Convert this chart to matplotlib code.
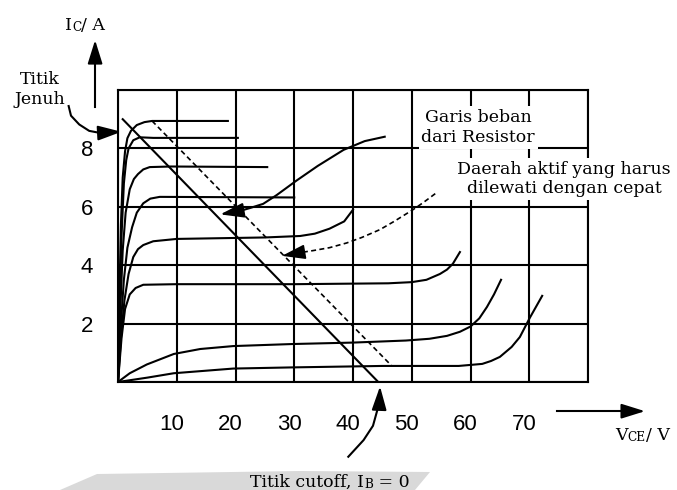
import matplotlib.pyplot as plt
from matplotlib.patches import Polygon
from matplotlib.transforms import ScaledTranslation

plt.rcParams['font.family'] = ['Liberation Sans', 'DejaVu Sans']
SERIF = 'DejaVu Serif'

# grid and tick values
vce_grid = [0, 10, 20, 30, 40, 50, 60, 70, 80]
vce_labels = ['', '10', '20', '30', '40', '50', '60', '70', '']
ic_grid = [0, 2, 4, 6, 8, 10]
ic_labels = ['', '2', '4', '6', '8', '']

# characteristic curves (Vce in V, Ic in A), lowest IB first
ib1_v = [0, 5, 9.5, 19.6, 29.6, 45, 58, 62, 63.5, 65, 67, 68.4, 70.1, 72.2]
ib1_i = [0, 0.15, 0.3, 0.46, 0.5, 0.55, 0.55, 0.62, 0.72, 0.86, 1.2, 1.54, 2.2, 2.95]
ib2_v = [0, 2, 4.9, 9.5, 14, 19.6, 29.6, 40, 49, 53, 56, 58.2, 60, 61.5, 62.8, 64, 65.2]
ib2_i = [0, 0.3, 0.6, 0.96, 1.13, 1.23, 1.3, 1.35, 1.42, 1.48, 1.58, 1.72, 1.9, 2.18, 2.57, 3.0, 3.5]
ib3_v = [0, 0.6, 1.2, 2.0, 3.0, 4.3, 10, 30, 46, 50, 52.5, 54.8, 56, 57, 58.2]
ib3_i = [0, 1.5, 2.5, 3.0, 3.22, 3.33, 3.35, 3.35, 3.38, 3.42, 3.5, 3.7, 3.85, 4.05, 4.45]
ib4_v = [0, 0.5, 1.1, 1.8, 2.6, 3.4, 4.3, 6, 10, 25, 31, 33.5, 36, 38.5, 40]
ib4_i = [0, 1.5, 2.8, 3.7, 4.28, 4.55, 4.69, 4.82, 4.9, 4.95, 5.0, 5.08, 5.25, 5.5, 5.9]
ib5_v = [0, 0.5, 1.0, 1.6, 2.4, 3.2, 4.3, 5.5, 7.1, 30]
ib5_i = [0, 2.0, 3.5, 4.6, 5.3, 5.8, 6.12, 6.28, 6.34, 6.32]
ib6_v = [0, 0.4, 0.8, 1.3, 2.0, 2.7, 3.4, 4.3, 5.4, 9, 25.4]
ib6_i = [0, 2.5, 4.5, 5.8, 6.6, 6.95, 7.12, 7.28, 7.36, 7.38, 7.36]
ib7_v = [0, 0.3, 0.6, 1.0, 1.4, 1.8, 2.6, 3.7, 6, 20.4]
ib7_i = [0, 2.8, 5.0, 6.8, 7.6, 8.0, 8.28, 8.38, 8.36, 8.36]
ib8_v = [0, 0.25, 0.5, 0.8, 1.2, 1.6, 2.2, 3.2, 4.5, 5.8, 18.7]
ib8_i = [0, 3, 5.4, 7.0, 7.9, 8.35, 8.6, 8.8, 8.9, 8.94, 8.94]

# load lines
load_v = [0.8, 44.3]
load_i = [9.0, 0.0]
fast_v = [5.8, 46.6]
fast_i = [8.94, 0.55]

# annotation arrows (path, then head tip)
garis_v = [45.4, 42, 38.4, 34, 30.4, 27, 24.7, 22.5, 20.8]
garis_i = [8.4, 8.25, 7.95, 7.4, 6.9, 6.4, 6.1, 5.96, 5.86]
garis_tip = (17.4, 5.74)
daerah_v = [54, 52, 50.2, 47, 44.6, 41.5, 38.9, 36, 33.2, 31.6]
daerah_i = [6.45, 6.15, 5.9, 5.5, 5.22, 4.95, 4.76, 4.6, 4.5, 4.45]
daerah_tip = (27.9, 4.32)
jenuh_v = [-8.4, -8.0, -6.6, -4.9, -3.06]
jenuh_i = [9.45, 9.12, 8.82, 8.6, 8.53]
jenuh_tip = (0.6, 8.57)
cutoff_v = [39.2, 41.8, 43.4, 44.5]
cutoff_i = [-2.56, -1.99, -1.5, -0.7]
cutoff_tip = (44.6, -0.15)

fig = plt.figure(figsize=(6.77, 4.9), dpi=100)
ax = fig.add_axes([118 / 677, 1 - 382 / 490, 470 / 677, 292 / 490])
ax.set_xlim(0, 80)
ax.set_ylim(0, 10)
ax.set_xticks(vce_grid, labels=vce_labels)
ax.set_yticks(ic_grid, labels=ic_labels)
ax.grid(True, color='black', lw=1.5)
ax.tick_params(length=0, labelsize=16)
ax.tick_params(axis='x', pad=23)
ax.tick_params(axis='y', pad=18)
for s in ax.spines.values():
    s.set_linewidth(1.5)
# the printed x labels sit a little left of their grid lines
shift = ScaledTranslation(-5 / 100, 0, fig.dpi_scale_trans)
for lab in ax.get_xticklabels():
    lab.set_transform(lab.get_transform() + shift)

for v, i in [(ib1_v, ib1_i), (ib2_v, ib2_i), (ib3_v, ib3_i), (ib4_v, ib4_i),
             (ib5_v, ib5_i), (ib6_v, ib6_i), (ib7_v, ib7_i), (ib8_v, ib8_i)]:
    ax.plot(v, i, color='black', lw=1.5)

ax.plot(load_v, load_i, color='black', lw=1.5)
ax.plot(fast_v, fast_i, color='black', lw=1.2, ls=(0, (3, 2)))

head = '-|>,head_length=0.8,head_width=0.25'


def curved_arrow(v, i, tip, ls='-', lw=1.5):
    ax.plot(v, i, color='black', lw=lw, ls=ls, clip_on=False)
    ax.annotate('', xy=tip, xytext=(v[-1], i[-1]), annotation_clip=False,
                arrowprops=dict(arrowstyle=head, color='black', lw=lw,
                                mutation_scale=18, shrinkA=0, shrinkB=0))


curved_arrow(garis_v, garis_i, garis_tip)
curved_arrow(daerah_v, daerah_i, daerah_tip, ls=(0, (3, 2)), lw=1.2)
curved_arrow(jenuh_v, jenuh_i, jenuh_tip)
curved_arrow(cutoff_v, cutoff_i, cutoff_tip)

# axis arrows
curved_arrow([-3.9, -3.9], [9.42, 10.9], (-3.9, 11.71))
curved_arrow([74.7, 86.5], [-1.0, -1.0], (89.7, -1.0))

ax.text(61.3, 8.72, 'Garis beban\ndari Resistor', family=SERIF, fontsize=12.5,
        ha='center', va='center', linespacing=1.25,
        bbox=dict(fc='white', ec='none', pad=2))
ax.text(75.9, 6.95, 'Daerah aktif yang harus\ndilewati dengan cepat', family=SERIF,
        fontsize=12.5, ha='center', va='center', linespacing=1.2,
        bbox=dict(fc='white', ec='none', pad=2))
ax.text(-13.3, 10.02, 'Titik\nJenuh', family=SERIF, fontsize=12.5,
        ha='center', va='center', linespacing=1.25)


def smallcaps(x, y, parts, size=12.5):
    t = ax.text(x, y, parts[0], family=SERIF, fontsize=size, ha='left', va='baseline')
    for k, s in enumerate(parts[1:]):
        fs = size * 0.7 if k % 2 == 0 else size
        t = ax.annotate(s, xy=(1, 0), xycoords=t, family=SERIF, fontsize=fs,
                        ha='left', va='bottom', annotation_clip=False)


smallcaps(-9.0, 12.05, ['I', 'C', '/ A'])
smallcaps(84.6, -1.99, ['V', 'CE', '/ V'])
smallcaps(22.5, -3.6, ['Titik cutoff, I', 'B', ' = 0'])

# grey scan shading at the bottom
band = [(60, 490), (97, 474), (300, 471), (430, 472), (415, 490)]
fig.add_artist(Polygon([(x / 677, 1 - y / 490) for x, y in band], closed=True,
                       transform=fig.transFigure, fc='#d9d9d9', ec='none', zorder=-1))

fig.savefig('out.png', dpi=100)
